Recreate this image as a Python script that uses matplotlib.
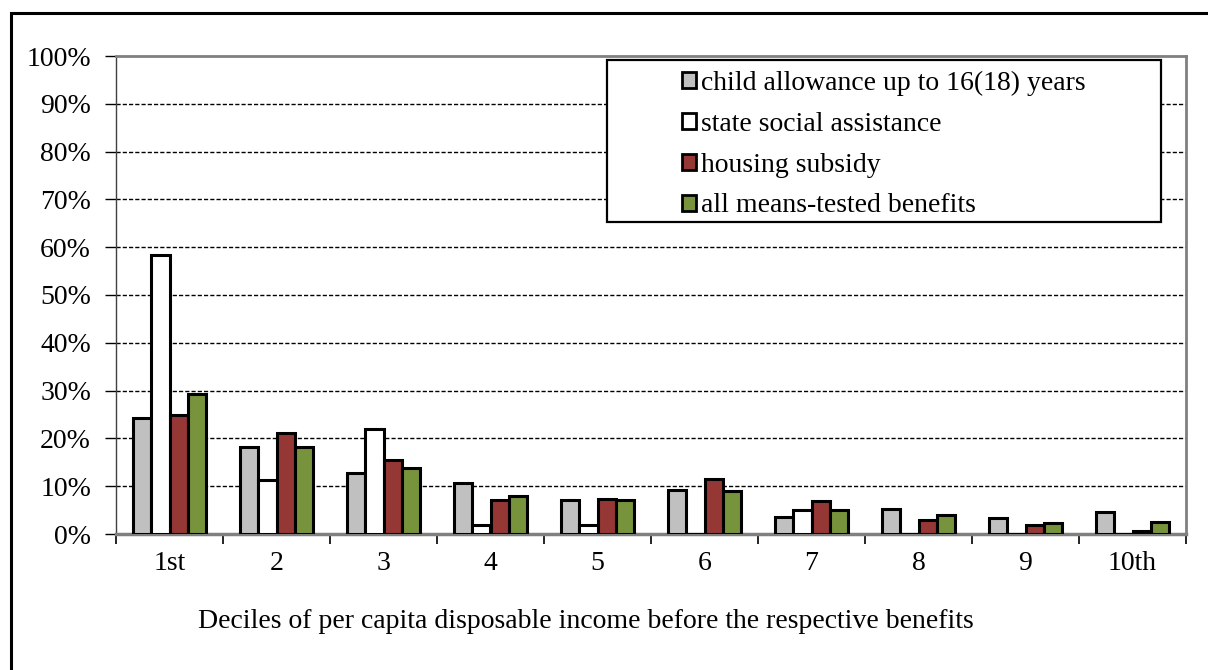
import matplotlib
matplotlib.use("Agg")
import matplotlib.pyplot as plt
import numpy as np
from matplotlib.patches import Rectangle, Patch
from matplotlib.ticker import FuncFormatter, FixedLocator

plt.rcParams['font.family'] = ['Liberation Serif', 'DejaVu Serif']

categories = ["1st", "2", "3", "4", "5", "6", "7", "8", "9", "10th"]
series_names = ["child allowance up to 16(18) years",
                "state social assistance",
                "housing subsidy",
                "all means-tested benefits"]
child_allowance = [24.2, 18.3, 12.8, 10.6, 7.2, 9.3, 3.6, 5.2, 3.4, 4.5]
social_assistance = [58.4, 11.2, 22.0, 1.9, 1.9, 0.0, 5.0, 0.0, 0.0, 0.0]
housing_subsidy = [24.9, 21.1, 15.5, 7.2, 7.4, 11.5, 6.9, 3.0, 1.9, 0.7]
all_means_tested = [29.3, 18.3, 13.8, 7.9, 7.2, 9.0, 5.0, 4.0, 2.3, 2.6]
colors = ["#C0C0C0", "#FFFFFF", "#953735", "#77933C"]
yticks = [0, 10, 20, 30, 40, 50, 60, 70, 80, 90, 100]
xlabel = "Deciles of per capita disposable income before the respective benefits"

W, H = 1208, 670
FS = 20
fig = plt.figure(figsize=(W / 100, H / 100), dpi=100)
ax = fig.add_axes([116 / W, 1 - 534 / H, (1186 - 116) / W, (534 - 56) / H])

x = np.arange(len(categories))
bw = 0.1725
data = [child_allowance, social_assistance, housing_subsidy, all_means_tested]
for i, (vals, c) in enumerate(zip(data, colors)):
    ax.bar(x + (i - 1.5) * bw, vals, width=bw, color=c, edgecolor="black",
           linewidth=2.2, zorder=3)

ax.set_xlim(-0.5, len(categories) - 0.5)
ax.set_ylim(0, 100)
ax.set_yticks(yticks)
ax.yaxis.set_major_formatter(FuncFormatter(lambda v, p: f"{int(v)}%"))
for yv in yticks[1:-1]:
    ax.axhline(yv, color="black", lw=1.0, ls=(0, (3, 1.5)), zorder=1)

ax.set_xticks(x)
ax.set_xticklabels(categories)
ax.xaxis.set_minor_locator(FixedLocator(np.arange(-0.5, len(categories), 1.0)))
ax.tick_params(axis="x", which="major", length=0, pad=12, labelsize=FS)
ax.tick_params(axis="x", which="minor", length=7, width=1.2, color="black")
ax.tick_params(axis="y", length=8, width=1.0, color="black", pad=10, labelsize=FS)

for s in ["top", "right"]:
    ax.spines[s].set_color("#808080")
    ax.spines[s].set_linewidth(2)
ax.spines["bottom"].set_color("#808080")
ax.spines["bottom"].set_linewidth(2.5)
ax.spines["left"].set_color("#404040")
ax.spines["left"].set_linewidth(1.0)

fig.text(586 / W, 1 - 622 / H, xlabel, ha="center", va="center", fontsize=FS)

# legend frame
fig.patches.append(Rectangle((607 / W, 1 - 222 / H), (1161 - 607) / W, (222 - 60) / H,
                             transform=fig.transFigure, facecolor="white",
                             edgecolor="black", linewidth=1.6, zorder=4.5))
handles = [Patch(facecolor=c, edgecolor="black", linewidth=2.0) for c in colors]
leg = fig.legend(handles, series_names, loc="upper left",
                 bbox_to_anchor=(661 / W, 1 - 50 / H), frameon=False,
                 fontsize=FS, handlelength=0.5, handleheight=0.5,
                 handletextpad=0.2, labelspacing=0.57, borderpad=0.25)
leg.set_zorder(6)

# outer frame
fig.patches.append(Rectangle((11 / W, -0.2), 1.5, 1 - 13 / H + 0.2,
                             transform=fig.transFigure, fill=False,
                             edgecolor="black", linewidth=2.2, zorder=0))

fig.savefig("out.png", dpi=100)
